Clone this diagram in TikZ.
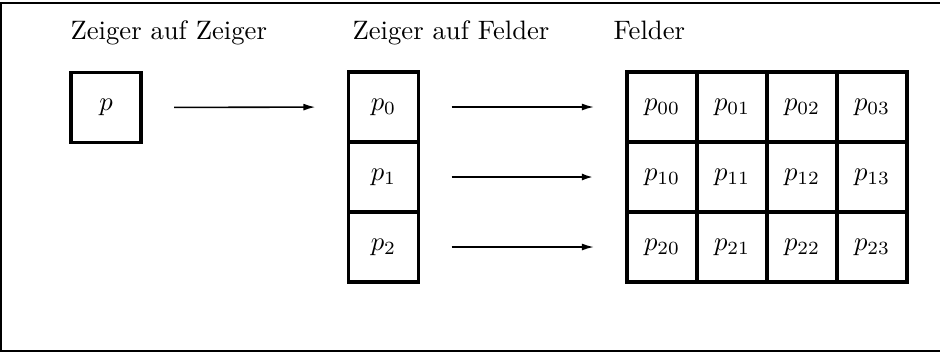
\documentclass[tikz,border=0pt]{standalone}
\usetikzlibrary{arrows.meta}
\begin{document}
\begin{tikzpicture}[x=0.375pt,y=-0.375pt,
  cell/.style={draw,line width=1.2pt,minimum width=26.25pt,minimum height=26.25pt,inner sep=0pt,outer sep=0pt},
  heading/.style={anchor=base west,inner sep=0pt,font=\normalsize},
  ptr/.style={line width=0.6pt,-{Latex[length=4.5pt,width=2.6pt]},shorten <=12.4pt,shorten >=12.4pt}]
\useasboundingbox (0,0) rectangle (940,352);
% frame (open on the right)
\draw[line width=0.8pt] (940,3) -- (1,3) -- (1,351) -- (940,351);
% headings
\node[heading] (h1) at (70,39) {Zeiger auf Zeiger};
\node[heading] (h2) at (352,39) {Zeiger auf Felder};
\node[heading] (h3) at (613,39) {Felder};
% pointer to pointer
\node[cell] (p) at (106,107.5) {$p$};
% array of pointers
\node[cell] (q0) at (383.5,107) {$p_0$};
\node[cell] (q1) at (383.5,177) {$p_1$};
\node[cell] (q2) at (383.5,247) {$p_2$};
% arrays
\foreach \r in {0,1,2}{
  \foreach \c in {0,1,2,3}{
    \node[cell] (a\r\c) at ({662+70*\c},{107+70*\r}) {$p_{\r\c}$};
  }
}
% connectors
\draw[ptr] (p.east) -- (q0.west);
\draw[ptr] (q0.east) -- (a00.west);
\draw[ptr,line width=0.9pt] (q1.east) -- (a10.west);
\draw[ptr] (q2.east) -- (a20.west);
\end{tikzpicture}
\end{document}
